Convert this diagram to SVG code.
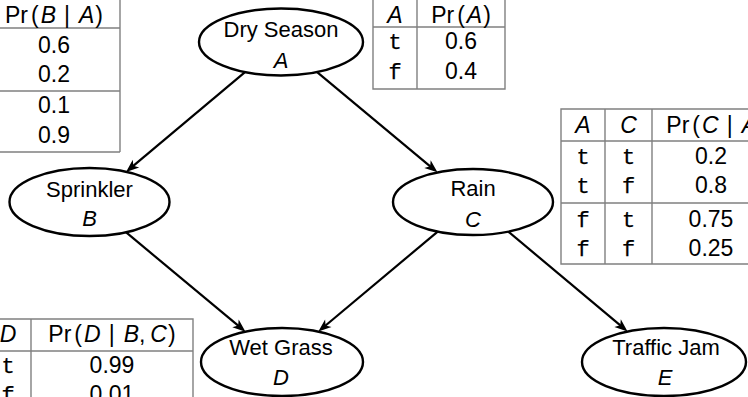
<svg xmlns="http://www.w3.org/2000/svg" width="748" height="397" viewBox="0 0 748 397">
  <style>
    .node ellipse { fill: #ffffff; stroke: #000000; stroke-width: 2.4; }
    .lbl { font-family: "Liberation Sans", Arial, sans-serif; font-size: 22px; fill: #000000; text-anchor: middle; }
    .var { font-style: italic; }
    .tbl { fill: none; stroke: #808080; stroke-width: 1.4; }
    .cell { font-family: "Liberation Sans", Arial, sans-serif; font-size: 23px; fill: #000000; text-anchor: middle; }
    .tt { font-family: "Liberation Mono", "Courier New", monospace; font-size: 22px; fill: #000000; stroke: #000000; stroke-width: 0.25; text-anchor: middle; }
    .edge { stroke: #000000; stroke-width: 2.2; fill: none; marker-end: url(#arrow); }
  </style>
  <defs>
    <marker id="arrow" viewBox="-14 -6 15 12" refX="-4" refY="0" markerWidth="15" markerHeight="12" markerUnits="userSpaceOnUse" orient="auto">
      <path d="M0,0 L-13,-5 L-9.5,0 L-13,5 Z" fill="#000000"/>
    </marker>
  </defs>

  <rect width="748" height="397" fill="#ffffff"/>

  <!-- CPT for B given A (clipped at the left edge) -->
  <g id="cpt-b">
    <path class="tbl" d="M0,28 H120 M0,91 H120 M0,152 H120 M120,-5 V152"/>
    <text class="cell" x="54" y="23">Pr<tspan dx="3">(</tspan><tspan class="var" dx="2">B</tspan><tspan dx="8">|</tspan><tspan class="var" dx="9">A</tspan><tspan dx="1">)</tspan></text>
    <text class="cell" x="54" y="53">0.6</text>
    <text class="cell" x="54" y="82">0.2</text>
    <text class="cell" x="54" y="113">0.1</text>
    <text class="cell" x="54" y="143">0.9</text>
  </g>

  <!-- CPT for A -->
  <g id="cpt-a">
    <path class="tbl" d="M373,-5 V89 H505 V-5 M417,-5 V89 M373,27 H505"/>
    <text class="cell var" x="395" y="23">A</text>
    <text class="cell" x="461" y="23">Pr<tspan dx="3">(</tspan><tspan class="var" dx="2">A</tspan><tspan dx="1">)</tspan></text>
    <text class="tt" x="395" y="49">t</text>
    <text class="cell" x="461" y="49">0.6</text>
    <text class="tt" x="395" y="79">f</text>
    <text class="cell" x="461" y="79">0.4</text>
  </g>

  <!-- CPT for C given A (clipped at the right edge) -->
  <g id="cpt-c">
    <path class="tbl" d="M761,109 H561 V264 H761 M605,109 V264 M652,109 V264 M561,141 H761 M561,203 H761"/>
    <text class="cell var" x="583" y="133">A</text>
    <text class="cell var" x="628.5" y="133">C</text>
    <text class="cell" x="716" y="133">Pr<tspan dx="3">(</tspan><tspan class="var" dx="2">C</tspan><tspan dx="8">|</tspan><tspan class="var" dx="9">A</tspan><tspan dx="1">)</tspan></text>
    <text class="tt" x="583" y="164">t</text>
    <text class="tt" x="628.5" y="164">t</text>
    <text class="cell" x="711" y="164">0.2</text>
    <text class="tt" x="583" y="193">t</text>
    <text class="tt" x="628.5" y="193">f</text>
    <text class="cell" x="711" y="193">0.8</text>
    <text class="tt" x="583" y="227">f</text>
    <text class="tt" x="628.5" y="227">t</text>
    <text class="cell" x="711" y="227">0.75</text>
    <text class="tt" x="583" y="256">f</text>
    <text class="tt" x="628.5" y="256">f</text>
    <text class="cell" x="711" y="256">0.25</text>
  </g>

  <!-- CPT for D given B, C (clipped at the left and bottom edges) -->
  <g id="cpt-d">
    <path class="tbl" d="M0,319 H193 V400 M31,319 V400 M0,351 H193"/>
    <text class="cell var" x="8" y="342">D</text>
    <text class="cell" x="112" y="342">Pr<tspan dx="3">(</tspan><tspan class="var" dx="2">D</tspan><tspan dx="8">|</tspan><tspan class="var" dx="9">B</tspan><tspan dx="0">,</tspan><tspan class="var" dx="5">C</tspan><tspan dx="1">)</tspan></text>
    <text class="tt" x="8" y="373">t</text>
    <text class="cell" x="112" y="373">0.99</text>
    <text class="tt" x="8" y="402">f</text>
    <text class="cell" x="112" y="402">0.01</text>
  </g>

  <!-- connectors -->
  <g id="edges">
    <line class="edge" x1="245" y1="72.1" x2="129.1" y2="169.4"/>
    <line class="edge" x1="317.1" y1="72.1" x2="434.4" y2="169.8"/>
    <line class="edge" x1="125.9" y1="232.2" x2="242.4" y2="329.1"/>
    <line class="edge" x1="437.7" y1="231.6" x2="321.4" y2="329"/>
    <line class="edge" x1="508.3" y1="231.6" x2="624.5" y2="328.9"/>
  </g>

  <!-- nodes -->
  <g id="node-a" class="node">
    <ellipse cx="281" cy="42" rx="82" ry="33.5"/>
    <text class="lbl" x="281" y="37">Dry Season</text>
    <text class="lbl var" x="281" y="68">A</text>
  </g>
  <g id="node-b" class="node">
    <ellipse cx="89.5" cy="202" rx="80" ry="34"/>
    <text class="lbl" x="89.5" y="197">Sprinkler</text>
    <text class="lbl var" x="89.5" y="226">B</text>
  </g>
  <g id="node-c" class="node">
    <ellipse cx="473" cy="202" rx="80" ry="33"/>
    <text class="lbl" x="473" y="196">Rain</text>
    <text class="lbl var" x="473" y="227">C</text>
  </g>
  <g id="node-d" class="node">
    <ellipse cx="282" cy="362" rx="81" ry="34"/>
    <text class="lbl" x="281" y="355">Wet Grass</text>
    <text class="lbl var" x="281" y="385">D</text>
  </g>
  <g id="node-e" class="node">
    <ellipse cx="664" cy="362" rx="82" ry="34"/>
    <text class="lbl" x="666" y="355">Traffic Jam</text>
    <text class="lbl var" x="665" y="385">E</text>
  </g>
</svg>
